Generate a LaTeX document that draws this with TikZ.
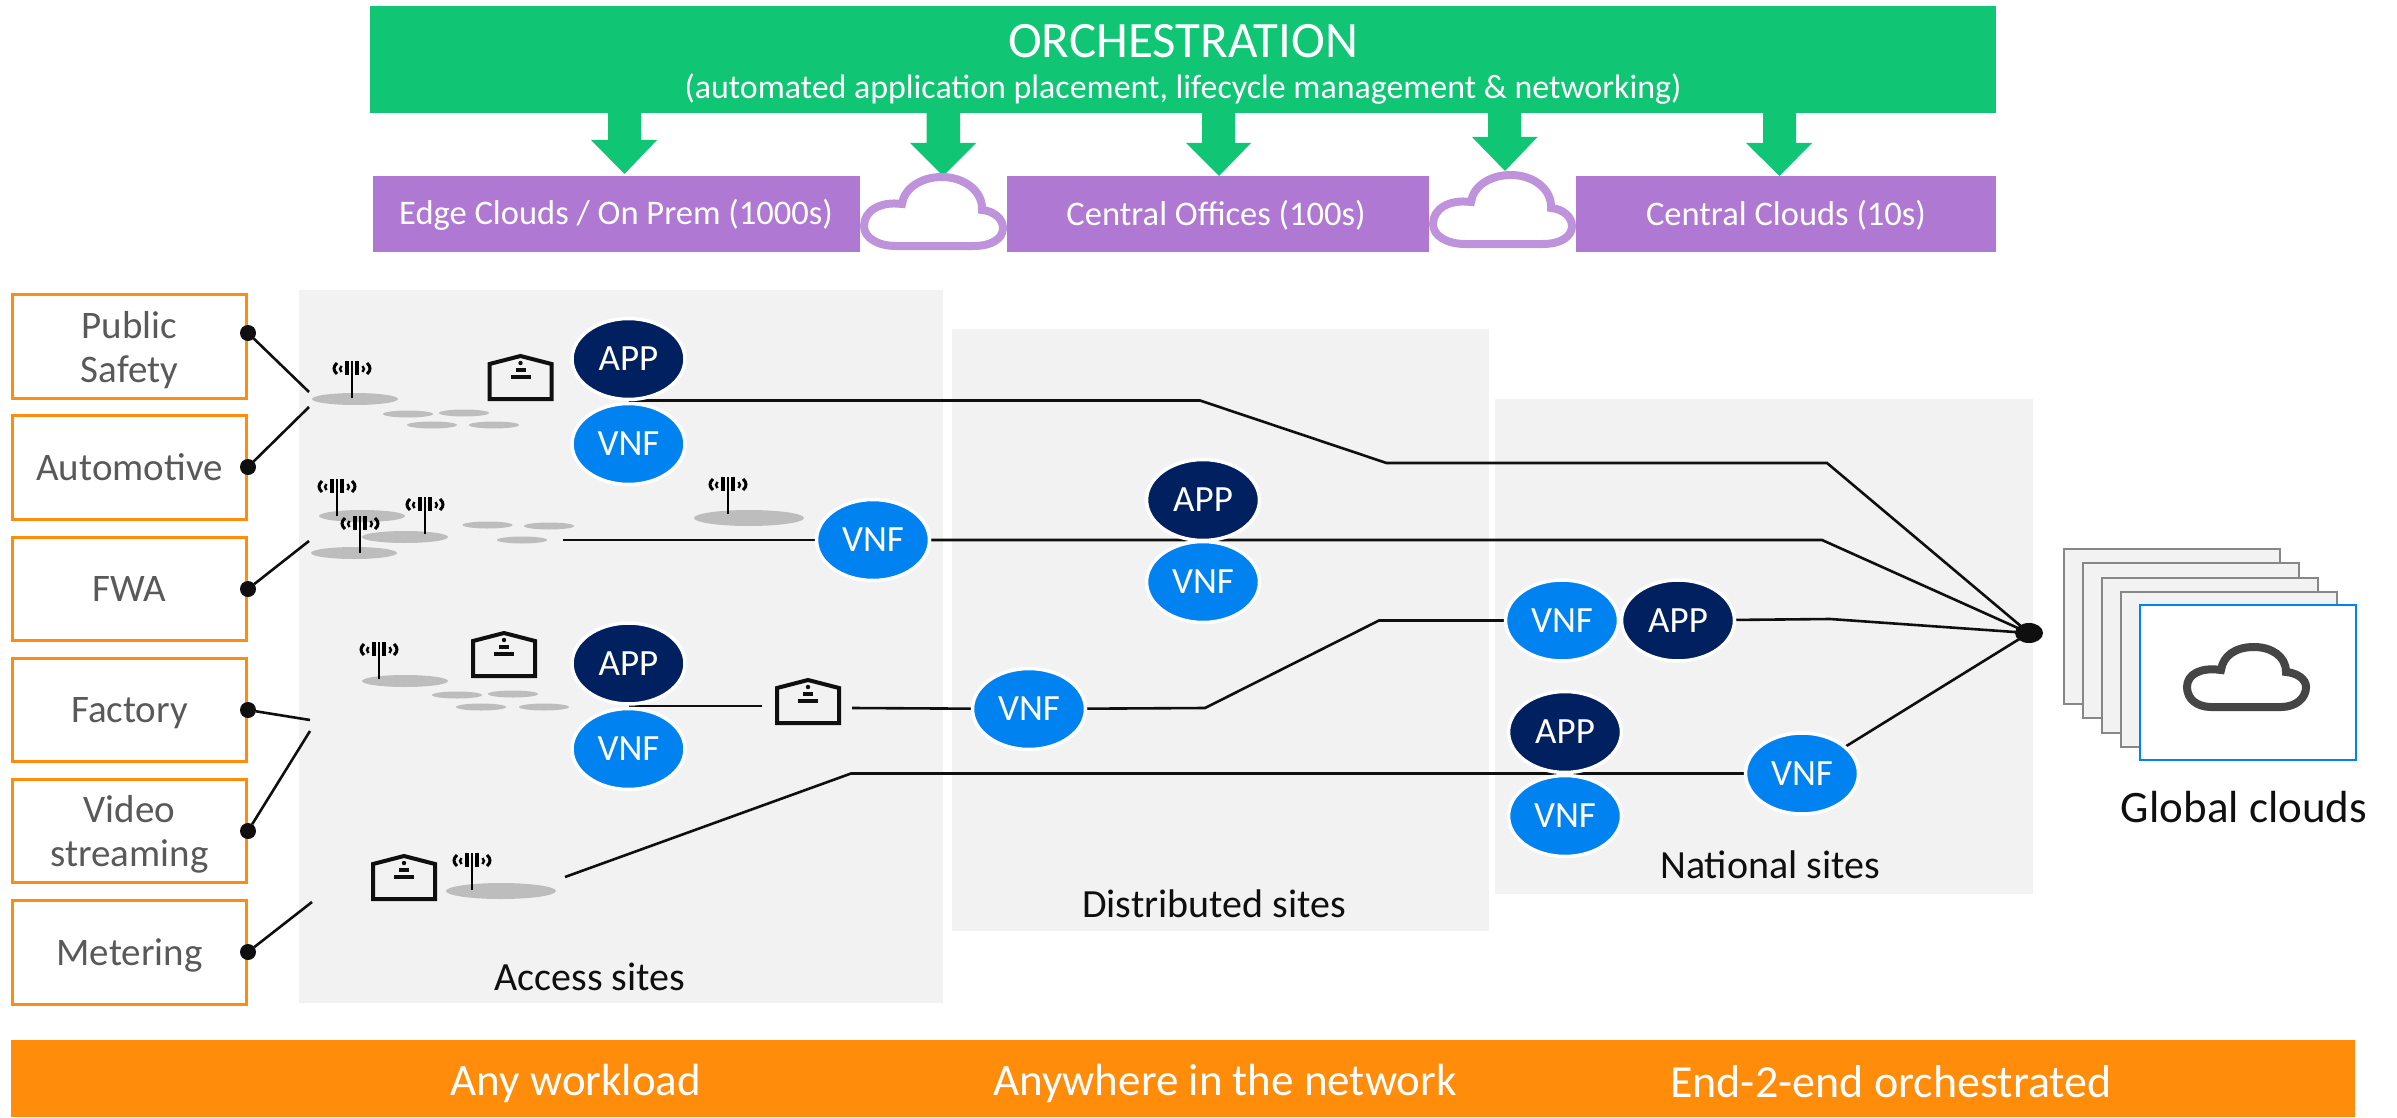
\documentclass[tikz,border=0pt]{standalone}
\usepackage{fontspec}
\setmainfont{Carlito}
\newfontfamily\zerofont[RawFeature=+zero]{Carlito}
\usetikzlibrary{shapes.geometric,calc}
\pgfdeclarelayer{backlayer}
\pgfdeclarelayer{linelayer}
\pgfsetlayers{backlayer,linelayer,main}
\definecolor{egreen}{HTML}{10C574}
\definecolor{epurple}{HTML}{AF78D2}
\definecolor{ecloud}{HTML}{BF93DB}
\definecolor{eorange}{HTML}{FF8C0A}
\definecolor{eblue}{HTML}{0082F0}
\definecolor{enavy}{HTML}{002060}
\definecolor{esite}{HTML}{F2F2F2}
\definecolor{epad}{HTML}{BDBDBD}
\definecolor{etxt}{HTML}{595959}
\definecolor{eblack}{HTML}{0F0F0F}
\newcommand{\fs}[1]{\fontsize{#1}{44}\selectfont}
\tikzset{
  every node/.append style={outer sep=0pt},
  appnode/.style={ellipse,draw=white,line width=3.5pt,fill=enavy,text=white,minimum width=113pt,minimum height=81pt,inner sep=0pt,font=\fs{37}},
  vnfnode/.style={appnode,fill=eblue},
  usebox/.style={rectangle,draw=eorange,line width=3pt,fill=white,inner sep=0pt,minimum width=234pt},
  usetext/.style={text=etxt,anchor=base,inner sep=0pt,font=\fs{39}},
  purplebox/.style={rectangle,fill=epurple,text=white,inner sep=0pt},
  sitebox/.style={rectangle,fill=esite,inner sep=0pt},
  sitelabel/.style={text=eblack,inner sep=0pt,font=\fs{40}},
  barlabel/.style={text=white,inner sep=0pt,font=\fs{45}},
  pinball/.style={ellipse,fill=eblack,inner sep=0pt,minimum width=16pt,minimum height=16pt},
  wire/.style={draw=eblack,line width=2.6pt},
  pad/.style={ellipse,fill=epad,inner sep=0pt},
  stackcard/.style={rectangle,draw=black!47,fill=esite,line width=2.2pt,inner sep=0pt,minimum width=216pt,minimum height=155pt},
  downarrow/.style={fill=egreen,draw=none},
  house/.pic={
    \draw[eblack,line width=4pt,miter limit=4] (-31,-2) -- (-31,-37) -- (0,-45) -- (31,-37) -- (31,-2) -- cycle;
    \fill[eblack] (0,-38) circle (2.2);
    \fill[eblack] (-5,-33) rectangle (5,-29);
    \fill[eblack] (-10,-26) rectangle (10,-22);
  },
  ant/.pic={
    \draw[black,line width=2.8pt] (0,0) -- (0,-37);
    \draw[black,line width=3.3pt] (-5,-37) -- (-5,-23) (5,-37) -- (5,-23);
    \draw[black,line width=3pt] (-15,-35) .. controls (-19,-31.5) and (-19,-27.5) .. (-15,-24);
    \draw[black,line width=3pt] (15,-35) .. controls (19,-31.5) and (19,-27.5) .. (15,-24);
    \draw[black,line width=2.4pt] (-10.5,-32) .. controls (-12.5,-30) and (-12.5,-28) .. (-10.5,-26);
    \draw[black,line width=2.4pt] (10.5,-32) .. controls (12.5,-30) and (12.5,-28) .. (10.5,-26);
  },
  cloudicon/.pic={
    \path[pic actions] (28,64) -- (98,64) .. controls (113,64) and (123,55) .. (123,44)
      .. controls (123,36) and (114,30) .. (103,29)
      .. controls (103,13) and (88,4) .. (71,4)
      .. controls (52,4) and (40,13) .. (38,27)
      .. controls (18,24) and (4,31) .. (4,44)
      .. controls (4,56) and (14,64) .. (28,64) -- cycle;
  },
  purplecloud/.pic={
    \path[draw=ecloud,fill=white,line width=8pt] (36,73) -- (114,73) .. controls (131,73) and (143,66) .. (143,55)
      .. controls (143,46) and (134,38) .. (122,37)
      .. controls (123,18) and (104,4) .. (82,4)
      .. controls (60,4) and (44,16) .. (42,31)
      .. controls (20,28) and (4,38) .. (4,53)
      .. controls (4,65) and (18,73) .. (36,73) -- cycle;
  }
}
\begin{document}
\begin{tikzpicture}[x=1pt,y=-1pt]
\useasboundingbox (0,0) rectangle (2397,1118);

% sites
\begin{pgfonlayer}{backlayer}
\node[sitebox,minimum width=644pt,minimum height=713pt,anchor=north west] (access) at (299,290) {};
\node[sitebox,minimum width=537pt,minimum height=602pt,anchor=north west] (distributed) at (952,329) {};
\node[sitebox,minimum width=538pt,minimum height=495pt,anchor=north west] (national) at (1495,399) {};
\end{pgfonlayer}
\node[sitelabel] (accesslabel) at (590,977) {Access sites};
\node[sitelabel] (distlabel) at (1214,904) {Distributed sites};
\node[sitelabel] (natlabel) at (1770,865) {National sites};

% orchestration
\fill[downarrow] (608,110) -- (641,110) -- (641,140) -- (657,140) -- (624.5,174) -- (591,140) -- (608,140) -- cycle;
\fill[downarrow] (926.5,110) -- (960,110) -- (960,143) -- (976,143) -- (943,176) -- (910,143) -- (926.5,143) -- cycle;
\fill[downarrow] (1202,110) -- (1235,110) -- (1235,143) -- (1251,143) -- (1219,176) -- (1186,143) -- (1202,143) -- cycle;
\fill[downarrow] (1488,110) -- (1521,110) -- (1521,137) -- (1537.5,137) -- (1505,171) -- (1472,137) -- (1488,137) -- cycle;
\fill[downarrow] (1763,110) -- (1796,110) -- (1796,143) -- (1812,143) -- (1779.5,176) -- (1746,143) -- (1763,143) -- cycle;
\node[rectangle,fill=egreen,inner sep=0pt,minimum width=1626pt,minimum height=107pt,anchor=north west] (orch) at (370,6) {};
\node[text=white,inner sep=0pt,font=\fs{51}] (orchtitle) at (1183,41) {ORCHESTRATION};
\node[text=white,inner sep=0pt,font=\fs{33.9}] (orchsub) at (1183,89) {(automated application placement, lifecycle management \& networking)};

\node[purplebox,minimum width=487pt,minimum height=76pt,anchor=north west] (edge) at (373,176) {};
\node[text=white,inner sep=0pt,font=\zerofont\fs{34.5}] (edgetxt) at (616,215) {Edge Clouds / On Prem (1000s)};
\node[purplebox,minimum width=422pt,minimum height=76pt,anchor=north west] (central) at (1007,176) {};
\node[text=white,inner sep=0pt,font=\zerofont\fs{34.5}] (centraltxt) at (1216,215) {Central Offices (100s)};
\node[purplebox,minimum width=420pt,minimum height=76pt,anchor=north west] (cclouds) at (1576,176) {};
\node[text=white,inner sep=0pt,font=\zerofont\fs{34.5}] (ccloudstxt) at (1786,215) {Central Clouds (10s)};
\pic at (860,173) {purplecloud};
\pic at (1429,171) {purplecloud};

% use cases
\node[usebox,minimum height=104pt,anchor=north west] (ps) at (12.5,294.5) {};
\node[usebox,minimum height=104pt,anchor=north west] (auto) at (12.5,415.5) {};
\node[usebox,minimum height=103pt,anchor=north west] (fwa) at (12.5,537.5) {};
\node[usebox,minimum height=103pt,anchor=north west] (fact) at (12.5,658.5) {};
\node[usebox,minimum height=103pt,anchor=north west] (video) at (12.5,779.5) {};
\node[usebox,minimum height=104pt,anchor=north west] (meter) at (12.5,900.5) {};
\node[usetext] (t1a) at (129.5,338) {Public};
\node[usetext] (t1b) at (129.5,382) {Safety};
\node[usetext] (t2) at (129.5,480) {Automotive};
\node[usetext] (t3) at (129.5,601) {FWA};
\node[usetext] (t4) at (129.5,722) {Factory};
\node[usetext] (t5a) at (129.5,822) {Video};
\node[usetext] (t5b) at (129.5,866) {streaming};
\node[usetext] (t6) at (129.5,965) {Metering};
\node[pinball] (d1) at (248,333) {};
\node[pinball] (d2) at (248,467) {};
\node[pinball] (d3) at (248,589) {};
\node[pinball] (d4) at (248,710) {};
\node[pinball] (d5) at (248,831) {};
\node[pinball] (d6) at (248,952) {};
\coordinate (e1) at (309,392);
\coordinate (e2) at (309,407);
\coordinate (e3) at (309,541);
\coordinate (e4) at (310,720);
\coordinate (e5) at (310,731);
\coordinate (e6) at (312,902);

% pads
\node[pad,minimum width=86pt,minimum height=12pt] (p1) at (355,399) {};
\foreach \n/\x/\y in {s1/408/414,s2/464/413,s3/432/425,s4/494/425,s5/487.5/525,s6/549/526,s7/522/540}
  \node[pad,minimum width=50pt,minimum height=7pt] (\n) at (\x,\y) {};
\node[pad,minimum width=86pt,minimum height=12pt] (p2) at (362,516) {};
\node[pad,minimum width=86pt,minimum height=12pt] (p3) at (405,537) {};
\node[pad,minimum width=86pt,minimum height=12pt] (p4) at (354,553) {};
\node[pad,minimum width=110pt,minimum height=16pt] (p5) at (749,518) {};
\node[pad,minimum width=86pt,minimum height=12pt] (p6) at (405,681) {};
\foreach \n/\x/\y in {s8/457/695,s9/513/694,s10/481/707,s11/544/707}
  \node[pad,minimum width=50pt,minimum height=7pt] (\n) at (\x,\y) {};
\node[pad,minimum width=110pt,minimum height=16pt] (p7) at (501,891) {};

\pic at (352,398) {ant};
\pic at (337,516) {ant};
\pic at (425,534) {ant};
\pic at (360,553) {ant};
\pic at (728,514) {ant};
\pic at (379,679) {ant};
\pic at (472,890) {ant};
\pic at (520.5,401) {house};
\pic at (504,678) {house};
\pic at (808,725) {house};
\pic at (404,901) {house};

% service nodes
\node[appnode] (app1) at (628.5,359) {APP};
\node[vnfnode] (vnf1) at (628.5,444) {VNF};
\node[vnfnode] (vnf2) at (873,540) {VNF};
\node[appnode] (app3) at (1203,500) {APP};
\node[vnfnode] (vnf3) at (1203,582) {VNF};
\node[appnode] (app2) at (628.5,663.5) {APP};
\node[vnfnode] (vnf4) at (628.5,749) {VNF};
\node[vnfnode] (vnf5) at (1029,709) {VNF};
\node[vnfnode] (vnf6) at (1562,620.5) {VNF};
\node[appnode] (app4) at (1678,620.5) {APP};
\node[appnode] (app5) at (1565,732) {APP};
\node[vnfnode] (vnf7) at (1565,816) {VNF};
\node[vnfnode] (vnf8) at (1802,773.5) {VNF};

% stack of clouds
\node[stackcard,anchor=north west] (c1) at (2064,549) {};
\node[stackcard,anchor=north west] (c2) at (2083,563) {};
\node[stackcard,anchor=north west] (c3) at (2102,578) {};
\node[stackcard,anchor=north west] (c4) at (2121,592) {};
\node[stackcard,anchor=north west,draw=eblue,fill=white] (c5) at (2140,605) {};
\pic[draw=black!73,line width=8pt] at (2183,643) {cloudicon};
\node[text=eblack,inner sep=0pt,font=\fs{45}] (globallabel) at (2244,807) {Global clouds};
\node[ellipse,fill=eblack,inner sep=0pt,minimum width=28pt,minimum height=20pt] (hub) at (2029,633) {};

% bottom bar
\node[rectangle,fill=eorange,inner sep=0pt,minimum width=2344pt,minimum height=77pt,anchor=north west] (bar) at (11,1040) {};
\node[barlabel] (b1) at (576,1083) {Any workload};
\node[barlabel] (b2) at (1225,1083) {Anywhere in the network};
\node[barlabel,font=\fs{46}] (b3) at (1891,1082) {End-2-end orchestrated};

% connectors
\coordinate (k1) at (1200,400.5);
\coordinate (k2) at (1386.5,463);
\coordinate (k3) at (1827,463);
\coordinate (k4) at (1822,540);
\coordinate (k5) at (1830,619);
\coordinate (k6) at (762,706);
\coordinate (k7) at (852,708);
\coordinate (k8) at (1205,708);
\coordinate (k9) at (1379,620.5);
\coordinate (k10) at (565,877);
\coordinate (k11) at (851,773.5);
\coordinate (k12) at (563,540);
\begin{pgfonlayer}{linelayer}
\draw[wire] (d1) -- (e1);
\draw[wire] (d2) -- (e2);
\draw[wire] (d3) -- (e3);
\draw[wire] (d4) -- (e4);
\draw[wire] (d5) -- (e5);
\draw[wire] (d6) -- (e6);
\draw[wire] (app1.south |- k1) -- (k1) -- (k2) -- (k3) -- (hub.center);
\draw[wire] (k12) -- (vnf2);
\draw[wire] (vnf2) -- (k4) -- (hub.center);
\draw[wire] (app4) -- (k5) -- (hub.center);
\draw[wire] (app2.south |- k6) -- (k6);
\draw[wire] (k7) -- (vnf5);
\draw[wire] (vnf5) -- (k8) -- (k9) -- (vnf6);
\draw[wire] (k10) -- (k11) -- (vnf8);
\draw[wire] (vnf8) -- (hub.center);
\end{pgfonlayer}
\end{tikzpicture}
\end{document}
